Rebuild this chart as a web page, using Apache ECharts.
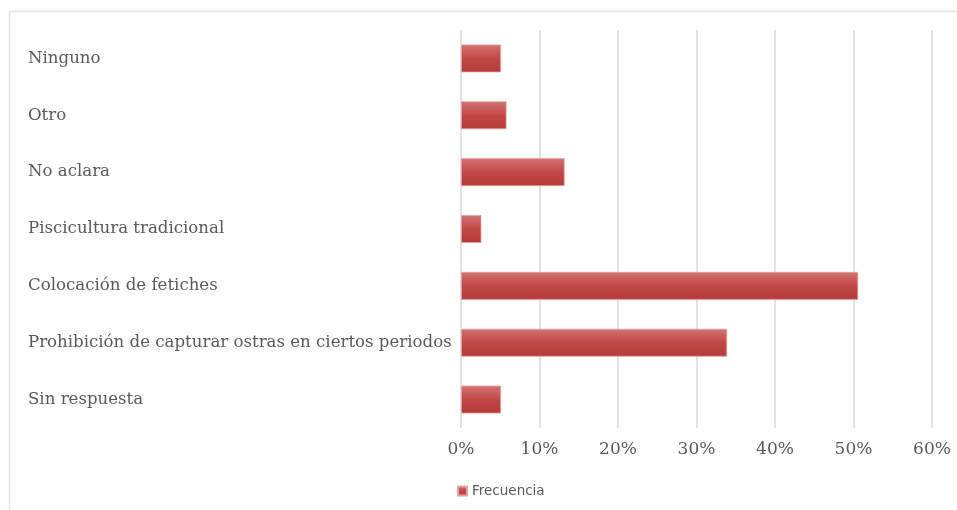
<!DOCTYPE html>
<html>
<head>
<meta charset="utf-8">
<script src="https://cdn.jsdelivr.net/npm/echarts@6/dist/echarts.min.js"></script>
<style>html,body{margin:0;padding:0;background:#fff}#c{width:957px;height:510px}</style>
</head>
<body>
<div id="c"></div>
<script>
const categories = ["Ninguno", "Otro", "No aclara", "Piscicultura tradicional", "Colocación de fetiches", "Prohibición de capturar ostras en ciertos periodos", "Sin respuesta"];
const frecuencia = [5.1, 5.8, 13.2, 2.6, 50.6, 33.9, 5.1];
const xTicks = [0, 10, 20, 30, 40, 50, 60];
const seriesName = "Frecuencia";

const chart = echarts.init(document.getElementById('c'), null, {renderer: 'canvas'});
const serif = 'DejaVu Serif';
chart.setOption({
  animation: false,
  backgroundColor: '#fff',
  graphic: [{
    type: 'rect', shape: {x: 9.5, y: 11.5, width: 1000, height: 600},
    style: {fill: 'none', stroke: '#e3e3e3', lineWidth: 1.5}, silent: true
  }],
  grid: {left: 461, right: 25, top: 30, bottom: 82, containLabel: false},
  legend: {
    data: [seriesName], bottom: 7, left: 452,
    itemWidth: 9, itemHeight: 9, icon: 'rect', itemGap: 6,
    textStyle: {color: '#595959', fontSize: 13.5, fontFamily: 'DejaVu Sans'}
  },
  xAxis: {
    type: 'value', min: xTicks[0], max: xTicks[xTicks.length - 1], interval: 10,
    axisLine: {show: false}, axisTick: {show: false},
    splitLine: {show: true, lineStyle: {color: '#d9d9d9', width: 1.5}},
    axisLabel: {formatter: v => v + '%', color: '#595959', fontSize: 17, fontFamily: serif, margin: 13}
  },
  yAxis: {
    type: 'category', data: categories, inverse: true,
    axisLine: {show: false}, axisTick: {show: false},
    axisLabel: {color: '#595959', fontSize: 16.6, fontFamily: serif, align: 'left', margin: 433}
  },
  series: [{
    name: seriesName, type: 'bar', data: frecuencia, barCategoryGap: '51%',
    itemStyle: {
      color: new echarts.graphic.LinearGradient(0, 0, 0, 1, [
        {offset: 0, color: '#d27473'}, {offset: 0.5, color: '#c24846'}, {offset: 1, color: '#b43b39'}
      ]),
      borderColor: '#e6a3a2', borderWidth: 0.8
    }
  }]
});
</script>
</body>
</html>
